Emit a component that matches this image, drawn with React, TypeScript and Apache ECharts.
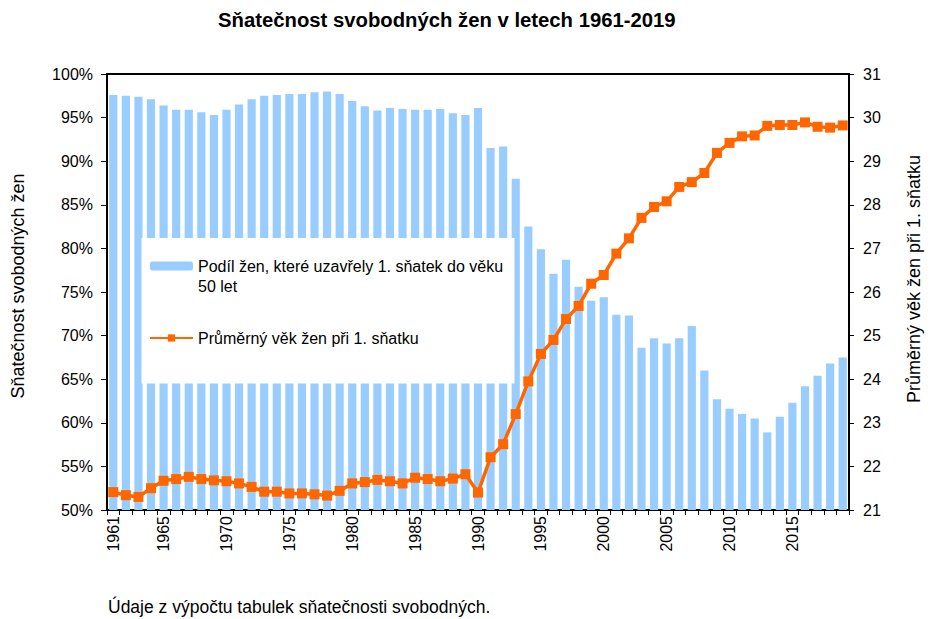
import React, { useEffect, useRef } from "react";
import * as echarts from "echarts";

const years = [
  "1961","1962","1963","1964","1965","1966","1967","1968","1969","1970",
  "1971","1972","1973","1974","1975","1976","1977","1978","1979","1980",
  "1981","1982","1983","1984","1985","1986","1987","1988","1989","1990",
  "1991","1992","1993","1994","1995","1996","1997","1998","1999","2000",
  "2001","2002","2003","2004","2005","2006","2007","2008","2009","2010",
  "2011","2012","2013","2014","2015","2016","2017","2018","2019",
];

const shareMarried = [
  97.6, 97.5, 97.4, 97.1, 96.4, 95.9, 95.9, 95.6, 95.3, 95.9,
  96.5, 97.1, 97.5, 97.6, 97.7, 97.7, 97.9, 98.0, 97.7, 96.9,
  96.3, 95.8, 96.1, 96.0, 95.9, 95.9, 96.0, 95.5, 95.3, 96.1,
  91.5, 91.7, 88.0, 82.5, 79.9, 77.1, 78.7, 75.6, 74.0, 74.4,
  72.4, 72.3, 68.6, 69.7, 69.1, 69.7, 71.1, 66.0, 62.7, 61.6,
  61.0, 60.5, 58.9, 60.7, 62.3, 64.2, 65.4, 66.8, 67.5,
];

const meanAge = [
  21.41, 21.34, 21.30, 21.50, 21.67, 21.71, 21.76, 21.71, 21.68, 21.66,
  21.61, 21.53, 21.42, 21.42, 21.38, 21.38, 21.36, 21.33, 21.44, 21.61,
  21.64, 21.69, 21.66, 21.61, 21.74, 21.71, 21.66, 21.72, 21.82, 21.40,
  22.21, 22.51, 23.20, 23.95, 24.58, 24.90, 25.38, 25.68, 26.19, 26.39,
  26.88, 27.23, 27.70, 27.95, 28.08, 28.41, 28.52, 28.73, 29.19, 29.42,
  29.57, 29.59, 29.81, 29.83, 29.83, 29.89, 29.79, 29.77, 29.82,
];

const barName = "Podíl žen, které uzavřely 1. sňatek do věku 50 let";
const lineName = "Průměrný věk žen při 1. sňatku";
const titleText = "Sňatečnost svobodných žen v letech 1961-2019";
const leftAxisName = "Sňatečnost svobodných žen";
const noteText = "Údaje z výpočtu tabulek sňatečnosti svobodných.";

const FONT = 'Arial, "Liberation Sans", sans-serif';

export default function App() {
  const ref = useRef<HTMLDivElement>(null);
  useEffect(() => {
    if (!ref.current) return;
    const chart = echarts.init(ref.current, undefined, { renderer: "svg" });
    const option: any = {
      animation: false,
      backgroundColor: "#fff",
      textStyle: { fontFamily: FONT, color: "#000" },
      title: {
        text: titleText,
        left: 213,
        top: 5,
        textStyle: { fontSize: 20.3, fontWeight: "bold", color: "#000", fontFamily: FONT },
      },
      grid: {
        left: 107,
        right: 76,
        top: 74,
        bottom: 109,
        show: true,
        borderColor: "#000",
        borderWidth: 2,
        backgroundColor: "transparent",
      },
      legend: {
        orient: "vertical",
        left: 149,
        top: 236,
        padding: 0,
        itemGap: 32,
        itemWidth: 43,
        itemHeight: 9,
        data: [barName, lineName],
        formatter: (name: string) =>
          name === barName
            ? " \nPodíl žen, které uzavřely 1. sňatek do věku\n50 let"
            : name,
        textStyle: { fontSize: 16, lineHeight: 20, color: "#000", fontFamily: FONT },
        z: 5,
      },
      graphic: [
        {
          type: "rect",
          z: 3,
          shape: { x: 141.5, y: 238, width: 373, height: 145.5 },
          style: { fill: "#fff" },
        },
        {
          type: "text",
          x: 108,
          y: 607,
          style: {
            text: noteText,
            fontSize: 17.5,
            fontFamily: FONT,
            fill: "#000",
            align: "left",
            verticalAlign: "middle",
          },
        },
      ],
      xAxis: {
        type: "category",
        data: years,
        boundaryGap: true,
        axisLine: { show: true, lineStyle: { color: "#000", width: 1.5 } },
        axisTick: { show: true, interval: 0, length: 5, lineStyle: { color: "#000" } },
        axisLabel: {
          rotate: 90,
          margin: 6,
          fontSize: 16,
          color: "#000",
          fontFamily: FONT,
          interval: (index: number, value: string) =>
            index === 0 || Number(value) % 5 === 0,
        },
        splitLine: { show: false },
      },
      yAxis: [
        {
          type: "value",
          min: 50,
          max: 100,
          interval: 5,
          position: "left",
          name: leftAxisName,
          nameLocation: "middle",
          nameRotate: 90,
          nameGap: 80,
          nameTextStyle: { fontSize: 18, color: "#000", fontFamily: FONT, padding: [0, 0, 0, 12] },
          axisLine: { show: true, lineStyle: { color: "#000", width: 1.5 } },
          axisTick: { show: true, length: 6, lineStyle: { color: "#000" } },
          axisLabel: { formatter: "{value}%", fontSize: 16, color: "#000", margin: 14, fontFamily: FONT },
          splitLine: { show: false },
        },
        {
          type: "value",
          min: 21,
          max: 31,
          interval: 1,
          position: "right",
          name: lineName,
          nameLocation: "middle",
          nameRotate: 90,
          nameGap: 56,
          nameTextStyle: { fontSize: 18, color: "#000", fontFamily: FONT, padding: [0, 0, 0, 26] },
          axisLine: { show: true, lineStyle: { color: "#000", width: 1.5 } },
          axisTick: { show: true, length: 5, lineStyle: { color: "#000" } },
          axisLabel: { fontSize: 16, color: "#000", margin: 14, fontFamily: FONT },
          splitLine: { show: false },
        },
      ],
      series: [
        {
          name: barName,
          type: "bar",
          data: shareMarried,
          yAxisIndex: 0,
          barCategoryGap: "35%",
          itemStyle: { color: "#99CCFF" },
          z: 2,
        },
        {
          name: lineName,
          type: "line",
          data: meanAge,
          yAxisIndex: 1,
          symbol: "rect",
          symbolSize: 10,
          showSymbol: true,
          showAllSymbol: true,
          lineStyle: { color: "#FF6600", width: 3.5 },
          itemStyle: { color: "#FF6600" },
          z: 4,
        },
      ],
    };
    chart.setOption(option);
    return () => chart.dispose();
  }, []);
  return (
    <div
      ref={ref}
      style={{ position: "fixed", left: 0, top: 0, width: 931, height: 619 }}
    />
  );
}
